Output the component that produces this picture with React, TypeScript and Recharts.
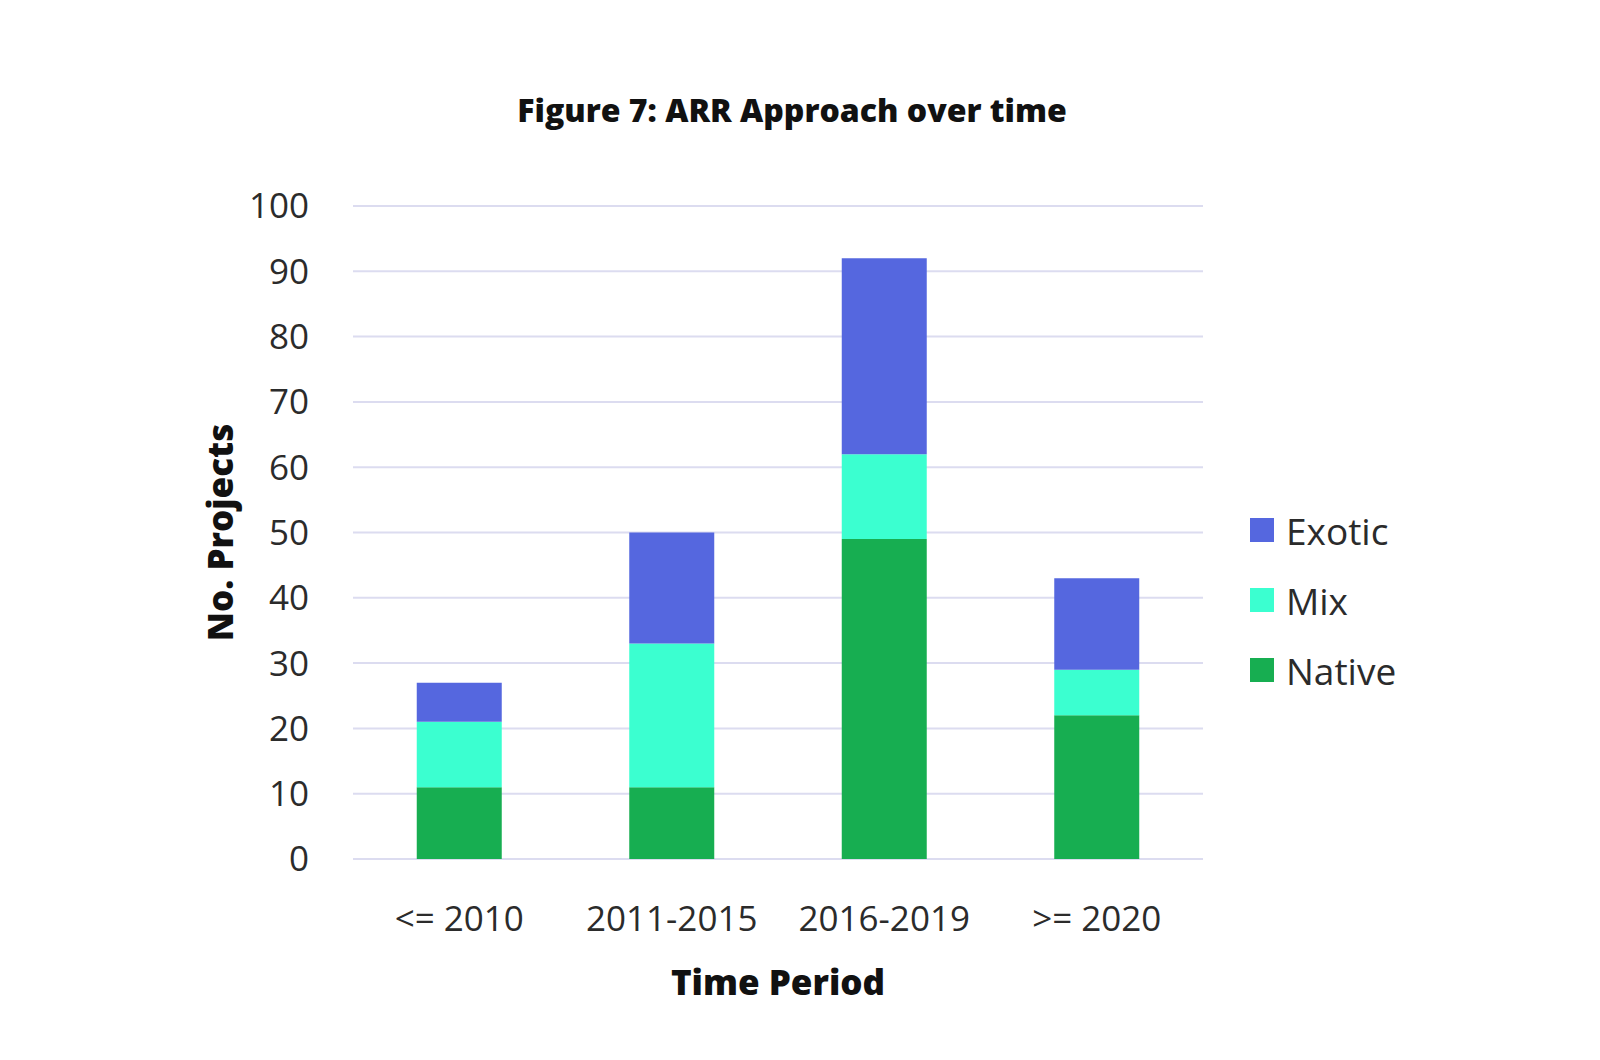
import React from "react";
import { BarChart, Bar, XAxis, YAxis, CartesianGrid, Label } from "recharts";

const periods = ["<= 2010", "2011-2015", "2016-2019", ">= 2020"];
const nativeVals = [11, 11, 49, 22];
const mixVals = [10, 22, 13, 7];
const exoticVals = [6, 17, 30, 14];
const yTicks = [0, 10, 20, 30, 40, 50, 60, 70, 80, 90, 100];

const series = [
  { key: "Native", color: "#17AE51" },
  { key: "Mix", color: "#3BFFD0" },
  { key: "Exotic", color: "#5567DF" },
];
const legendOrder = ["Exotic", "Mix", "Native"];

const data = periods.map((p, i) => ({
  period: p,
  Native: nativeVals[i],
  Mix: mixVals[i],
  Exotic: exoticVals[i],
}));

const FONT = "'Open Sans', 'Noto Sans', sans-serif";

const LegendBox = () => (
  <div style={{ position: "absolute", left: 1242, top: 487, fontFamily: FONT }}>
    {legendOrder.map((k) => {
      const s = series.find((x) => x.key === k)!;
      return (
        <div key={k} style={{ display: "flex", alignItems: "center", height: 70 }}>
          <div style={{ width: 24, height: 24, background: s.color, marginRight: 12 }} />
          <span style={{ fontSize: 37, color: "#2b2b2b" }}>{k}</span>
        </div>
      );
    })}
  </div>
);

export default function App() {
  return (
    <div style={{ position: "relative", width: 1584, height: 1044, background: "#fff" }}>
      <div
        style={{
          position: "absolute",
          left: 0,
          width: 1568,
          top: 80,
          textAlign: "center",
          fontFamily: FONT,
          fontWeight: 800,
          fontSize: 32,
          color: "#111",
        }}
      >
        Figure 7: ARR Approach over time
      </div>
      <BarChart
        width={1584}
        height={1044}
        data={data}
        margin={{ top: 198, right: 389, bottom: 63, left: 265 }}
        barCategoryGap="30%"
      >
        <CartesianGrid vertical={false} stroke="#DCDCF0" strokeWidth={2} />
        <XAxis
          dataKey="period"
          axisLine={false}
          tickLine={false}
          tickSize={0}
          tickMargin={47}
          height={130}
          tick={{ fontFamily: FONT, fontSize: 35, fill: "#2b2b2b" }}
          interval={0}
        >
          <Label
            content={({ viewBox }: any) => (
              <text
                x={viewBox.x + viewBox.width / 2}
                y={973}
                textAnchor="middle"
                dominantBaseline="central"
                fontFamily={FONT}
                fontWeight={800}
                fontSize={35}
                fill="#111"
              >
                Time Period
              </text>
            )}
          />
        </XAxis>
        <YAxis
          domain={[0, 100]}
          ticks={yTicks}
          interval={0}
          axisLine={false}
          tickLine={false}
          tickSize={0}
          tickMargin={44}
          width={80}
          tick={{ fontFamily: FONT, fontSize: 35, fill: "#2b2b2b" }}
        >
          <Label
            content={({ viewBox }: any) => {
              const cx = 211;
              const cy = viewBox.y + viewBox.height / 2;
              return (
                <text
                  x={cx}
                  y={cy}
                  transform={`rotate(-90, ${cx}, ${cy})`}
                  textAnchor="middle"
                  dominantBaseline="central"
                  fontFamily={FONT}
                  fontWeight={800}
                  fontSize={35}
                  fill="#111"
                >
                  No. Projects
                </text>
              );
            }}
          />
        </YAxis>
        {series.map((s) => (
          <Bar key={s.key} dataKey={s.key} stackId="a" fill={s.color} isAnimationActive={false} />
        ))}
      </BarChart>
      <LegendBox />
    </div>
  );
}
